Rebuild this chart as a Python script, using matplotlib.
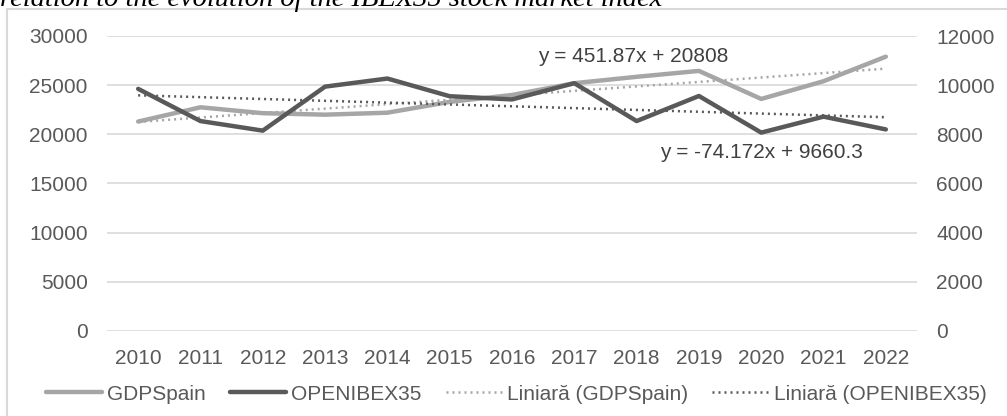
import numpy as np
import matplotlib.pyplot as plt
from matplotlib.patches import Rectangle

years = ["2010", "2011", "2012", "2013", "2014", "2015", "2016",
         "2017", "2018", "2019", "2020", "2021", "2022"]
gdp_spain = [21300, 22750, 22150, 22000, 22200, 23300, 24000,
             25200, 25850, 26450, 23600, 25400, 27900]
open_ibex35 = [9850, 8540, 8150, 9940, 10270, 9550, 9420,
               10080, 8540, 9560, 8070, 8720, 8200]

# trend line coefficients as printed on the chart (x = 1..13)
gdp_slope, gdp_icpt = 451.87, 20808
ibex_slope, ibex_icpt = -74.172, 9660.3
gdp_eq = "y = 451.87x + 20808"
ibex_eq = "y = -74.172x + 9660.3"

plt.rcParams['font.family'] = ['Liberation Sans', 'DejaVu Sans']

light = '#A6A6A6'
dark = '#595959'
txt = '#595959'
grid = '#D9D9D9'
fs = 15

fig = plt.figure(figsize=(10.07, 4.16), dpi=100)
ax = fig.add_axes([107/1007, 1-331/416, 810/1007, 295/416])
ax2 = ax.twinx()

x = np.arange(len(years))
t = x + 1

ax.plot(x, gdp_spain, color=light, lw=3.2, solid_capstyle='round',
        label='GDPSpain', zorder=3)
ax2.plot(x, open_ibex35, color=dark, lw=3.2, solid_capstyle='round',
         label='OPENIBEX35', zorder=3)
ax.plot(x, gdp_slope*t + gdp_icpt, color=light, lw=1.8, ls=(0, (0.8, 1.6)),
        label='Liniară (GDPSpain)', zorder=2)
ax2.plot(x, ibex_slope*t + ibex_icpt, color=dark, lw=1.8, ls=(0, (0.8, 1.6)),
         label='Liniară (OPENIBEX35)', zorder=2)

ax.set_xlim(-0.5, 12.5)
ax.set_ylim(0, 30000)
ax2.set_ylim(0, 12000)
ax.set_yticks(np.arange(0, 30001, 5000))
ax2.set_yticks(np.arange(0, 12001, 2000))
ax.set_xticks(x)
ax.set_xticklabels(years)

for a in (ax, ax2):
    for s in a.spines.values():
        s.set_visible(False)
    a.tick_params(length=0, labelsize=fs, labelcolor=txt)
ax.tick_params(axis='y', pad=14)
ax2.tick_params(axis='y', pad=14)
ax.tick_params(axis='x', pad=13)
ax.yaxis.grid(True, color=grid, lw=1.2)
ax.set_axisbelow(True)

ax.text(6.42, 27900, gdp_eq, fontsize=fs, color='#404040', va='center', ha='left')
ax.text(8.38, 18130, ibex_eq, fontsize=fs, color='#404040', va='center', ha='left')

h1, l1 = ax.get_legend_handles_labels()
h2, l2 = ax2.get_legend_handles_labels()
handles = [h1[0], h2[0], h1[1], h2[1]]
labels = [l1[0], l2[0], l1[1], l2[1]]
fig.legend(handles, labels, loc='center', bbox_to_anchor=(516/1007, 1-394/416),
           ncol=4, frameon=False, fontsize=fs, labelcolor=txt,
           handlelength=2.7, handletextpad=0.25, columnspacing=1.15)

fig.patches.append(Rectangle((7/1007, -0.1), 1.1, 1-9/416+0.1,
                             transform=fig.transFigure, fill=False,
                             edgecolor=grid, lw=1.5))

fig.text(0.0, 1-6/416, "relation to the evolution of the IBEX35 stock market index",
         family='Liberation Serif', style='italic', fontsize=20.5,
         color='black', va='baseline', ha='left')

fig.savefig('out.png', dpi=100)
